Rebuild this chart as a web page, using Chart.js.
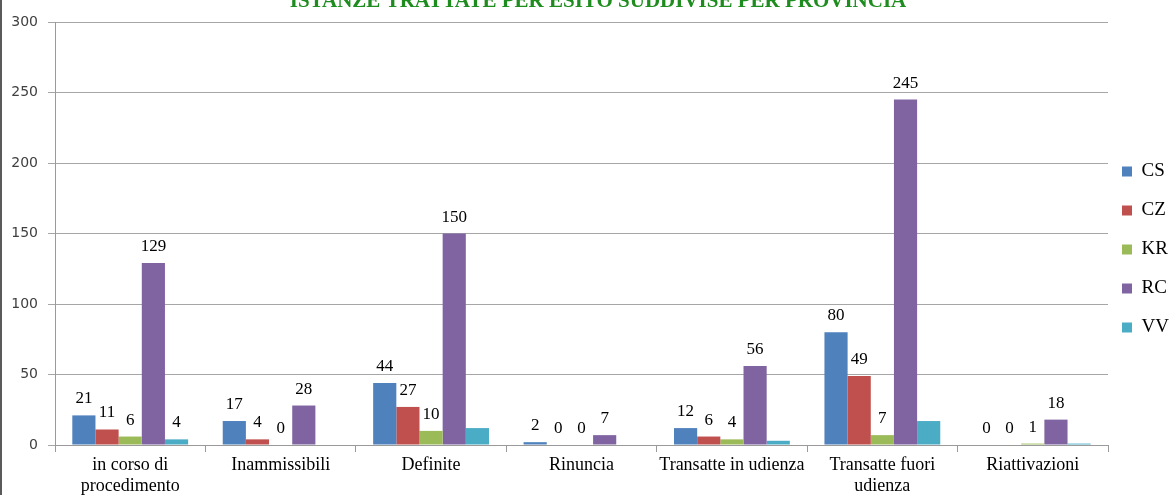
<!DOCTYPE html>
<html>
<head>
<meta charset="utf-8">
<script src="https://cdn.jsdelivr.net/npm/chart.js@4.4.1/dist/chart.umd.min.js"></script>
<style>
  html, body { margin: 0; padding: 0; background: #fff; }
  #wrap { width: 1169px; height: 495px; border-left: 2px solid #5a5a5a; }
</style>
</head>
<body>
<div id="wrap"><canvas id="esitoChart" width="1169" height="495"></canvas></div>
<script>
// ==========================================
// Istanze trattate per esito - data
// ==========================================
const chartTitle = 'ISTANZE TRATTATE PER ESITO SUDDIVISE PER PROVINCIA';
const categories = [
  ['in corso di', 'procedimento'],
  'Inammissibili',
  'Definite',
  'Rinuncia',
  'Transatte in udienza',
  ['Transatte fuori', 'udienza'],
  'Riattivazioni'
];
const provinces = ['CS', 'CZ', 'KR', 'RC', 'VV'];
const valuesCS = [21, 17, 44, 2, 12, 80, 0];
const valuesCZ = [11, 4, 27, 0, 6, 49, 0];
const valuesKR = [6, 0, 10, 0, 4, 7, 1];
const valuesRC = [129, 28, 150, 7, 56, 245, 18];
const valuesVV = [4, 0, 12, 0, 3, 17, 1];
// which values carry a number above the bar
const labelsCS = [true, true, true, true, true, true, true];
const labelsCZ = [true, true, true, true, true, true, true];
const labelsKR = [true, true, true, true, true, true, true];
const labelsRC = [true, true, true, true, true, true, true];
const labelsVV = [true, false, false, false, false, false, false];
const yMin = 0;
const yMax = 300;
const yStep = 50;

const colors = ['#4F81BD', '#C0504D', '#9BBB59', '#8064A2', '#4BACC6'];
const serif = '"Liberation Serif", "Times New Roman", serif';

const seriesValues = [valuesCS, valuesCZ, valuesKR, valuesRC, valuesVV];
const seriesLabels = [labelsCS, labelsCZ, labelsKR, labelsRC, labelsVV];

// Title (cut off at the top edge, like the original)
const titlePlugin = {
  id: 'cutTitle',
  afterDraw(chart) {
    const ctx = chart.ctx;
    ctx.save();
    ctx.font = 'bold 21px ' + serif;
    ctx.fillStyle = '#1E8C1E';
    ctx.textAlign = 'center';
    ctx.textBaseline = 'alphabetic';
    ctx.fillText(chartTitle, 596, 7);
    ctx.restore();
  }
};

// Nudge legend box to where Excel put it
const legendShift = {
  id: 'legendShift',
  afterLayout(chart) {
    const lg = chart.legend;
    if (!lg) return;
    lg.left -= 6;
    lg.top -= 9;
    lg.bottom -= 9;
  }
};

// Numbers above bars
const valueLabelPlugin = {
  id: 'valueLabels',
  afterDatasetsDraw(chart) {
    const ctx = chart.ctx;
    ctx.save();
    ctx.font = '17px ' + serif;
    ctx.fillStyle = '#000';
    ctx.textAlign = 'center';
    ctx.textBaseline = 'alphabetic';
    chart.data.datasets.forEach((ds, i) => {
      const meta = chart.getDatasetMeta(i);
      meta.data.forEach((bar, j) => {
        if (!seriesLabels[i][j]) return;
        ctx.fillText(String(ds.data[j]), bar.x, bar.y - 12);
      });
    });
    ctx.restore();
  }
};

const ctx = document.getElementById('esitoChart');

new Chart(ctx, {
  type: 'bar',
  data: {
    labels: categories,
    datasets: provinces.map((name, i) => ({
      label: name,
      data: seriesValues[i],
      backgroundColor: colors[i],
      borderWidth: 0,
      categoryPercentage: 0.77,
      barPercentage: 1
    }))
  },
  options: {
    responsive: false,
    animation: false,
    devicePixelRatio: 1,
    layout: { padding: { top: 22, right: 0, bottom: 0, left: 0 } },
    plugins: {
      title: { display: false },
      tooltip: { enabled: false },
      legend: {
        position: 'right',
        maxWidth: 63,
        labels: {
          boxWidth: 10,
          boxHeight: 10,
          padding: 20,
          color: '#000',
          font: { family: serif, size: 19 }
        }
      }
    },
    scales: {
      x: {
        grid: {
          offset: true,
          drawOnChartArea: false,
          tickLength: 7,
          color: '#9a9a9a'
        },
        border: { color: '#9a9a9a' },
        ticks: {
          color: '#000',
          padding: 2,
          maxRotation: 0,
          autoSkip: false,
          font: { family: serif, size: 18, lineHeight: 1.2 }
        },
        afterFit(scale) { scale.height = 50; }
      },
      y: {
        min: yMin,
        max: yMax,
        grid: { color: '#a6a6a6', tickLength: 7 },
        border: { color: '#9a9a9a' },
        ticks: {
          stepSize: yStep,
          color: '#404040',
          padding: 10,
          font: { family: '"DejaVu Sans", sans-serif', size: 14 }
        },
        afterFit(scale) { scale.width = 53; }
      }
    }
  },
  plugins: [titlePlugin, legendShift, valueLabelPlugin]
});
</script>
</body>
</html>
